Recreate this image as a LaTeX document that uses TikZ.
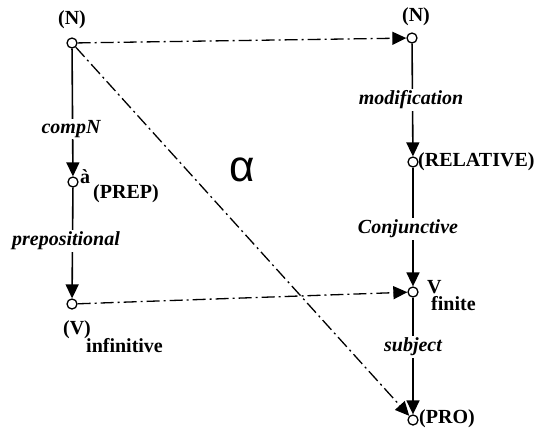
\documentclass[tikz,border=0pt]{standalone}
\usepackage{fontspec}
\setmainfont{Liberation Serif}
\newfontfamily\alphafont{Liberation Sans}
\usetikzlibrary{arrows.meta}
\begin{document}
\begin{tikzpicture}[x=1pt,y=-1pt,
  dot/.style={circle,draw,fill=white,line width=1.3pt,inner sep=0pt,minimum size=10pt},
  lbl/.style={font=\fontsize{20}{23}\selectfont\bfseries,inner sep=0pt},
  elbl/.style={font=\fontsize{20}{23}\selectfont\bfseries\itshape,fill=white,inner sep=1.5pt},
  tip/.style={-{Triangle[length=14pt,width=13pt]}},
  arr/.style={line width=1.6pt,tip},
  dd/.style={line width=1.3pt,dash pattern=on 13pt off 4pt on 2pt off 4pt,tip}]
\useasboundingbox (0,0) rectangle (542,432);
% points
\node[dot] (NL) at (72,43) {};
\node[dot] (NR) at (412,38) {};
\node[dot] (P) at (73,182) {};
\node[dot] (VI) at (72,304) {};
\node[dot] (R) at (413,162) {};
\node[dot] (VF) at (413,292) {};
\node[dot] (PRO) at (413,420) {};
% connectors
\draw[arr] (NL) -- (P);
\draw[arr] (P) -- (VI);
\draw[arr] (NR) -- (R);
\draw[arr] (R) -- (VF);
\draw[arr] (VF) -- (PRO);
\draw[dd] (NL) -- (NR);
\draw[dd] (NL) -- (PRO);
\draw[dd] (VI) -- (VF);
% edge labels
\node[elbl] (l1) at (71,129) {compN};
\node[elbl] (l2) at (66,241) {prepositional};
\node[elbl] (l3) at (411,100) {modification};
\node[elbl] (l4) at (408,229) {Conjunctive};
\node[elbl] (l5) at (413,347) {subject};
% node labels
\node[lbl] (tNL) at (72,20) {(N)};
\node[lbl] (tNR) at (416,17) {(N)};
\node[lbl,anchor=west] (ta) at (80,177) {à};
\node[lbl,anchor=west] (tprep) at (93,194) {(PREP)};
\node[lbl,anchor=west] (trel) at (418,162) {(RELATIVE)};
\node[lbl,anchor=west] (tv) at (427,287) {V};
\node[lbl,anchor=west] (tfin) at (431,304) {finite};
\node[lbl,anchor=west] (tpro) at (419,419) {(PRO)};
\node[lbl] (tvi) at (77,330) {(V)};
\node[lbl,anchor=west] (tinf) at (86,346) {infinitive};
\node[inner sep=0pt,font=\alphafont\fontsize{44}{48}\selectfont] (alpha) at (242,170) {α};
\end{tikzpicture}
\end{document}
